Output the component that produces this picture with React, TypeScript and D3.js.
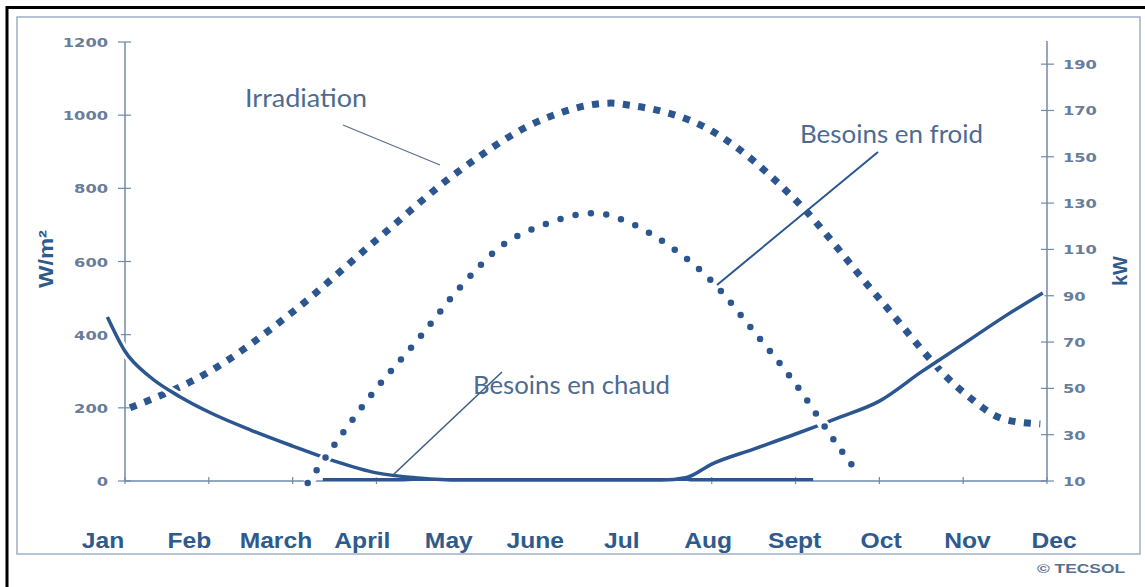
import * as d3 from "d3";

// x positions are in months (0 = Jan ... 11 = Dec), fractional where a curve starts/ends between months
const monthLabels = ["Jan", "Feb", "March", "April", "May", "June", "Jul", "Aug", "Sept", "Oct", "Nov", "Dec"];
const leftTicks = [0, 200, 400, 600, 800, 1000, 1200];
const rightTicks = [10, 30, 50, 70, 90, 110, 130, 150, 170, 190];

// Irradiation (W/m²), square dotted
const irrMonths = [0.06, 1, 2, 3, 4, 5, 5.8, 6, 7, 8, 9, 10, 10.5, 10.92];
const irrValues = [200, 298, 462, 659, 850, 990, 1033, 1028, 957, 768, 498, 243, 168, 156];

// Besoins en froid (kW), round dotted
const froidMonths = [2.18, 3, 3.5, 4, 4.5, 5, 5.6, 6, 6.5, 7, 7.5, 8, 8.5, 8.74];
const froidValues = [9.1, 50, 71.3, 93.7, 111.7, 120.7, 125.7, 121.8, 111.4, 96.3, 74.7, 51.9, 25.5, 13.5];

// Besoins en chaud (kW), solid
const chaudMonths = [-0.21, 0, 0.3, 0.66, 1, 1.5, 2, 2.5, 3, 3.5, 4, 6.4, 6.7, 7, 7.5, 8, 8.5, 9, 9.5, 10, 10.5, 10.95];
const chaudValues = [80.8, 66, 54.9, 46.3, 39.8, 32, 25.1, 18.6, 13.5, 11.3, 10.4, 10.4, 11.5, 17.3, 23.8, 30.3, 37.2, 44.5, 57.1, 69.1, 81.2, 91.2];

// flat base line under the summer months (kW)
const baseMonths = [2.36, 8.21];
const baseValues = [10.7, 10.7];

const W = 1145;
const H = 587;
const LINE = "#2b5690";
const AXIS = "#7189ab";
const TICK_TXT = "#687c9b";
const NOTE = "#4d6b92";

const x = d3.scaleLinear().domain([0, 11]).range([125, 1047]);
const xLabel = d3.scalePoint<string>().domain(monthLabels).range([103, 1054]);
const yL = d3.scaleLinear().domain([0, 1200]).range([481, 42]);
const yR = d3.scaleLinear().domain([10, 200]).range([481, 41]);

const pts = (ms: number[], vs: number[]) => ms.map((m, i) => [m, vs[i]] as [number, number]);

const lineL = d3.line<[number, number]>().x((d) => x(d[0])).y((d) => yL(d[1])).curve(d3.curveMonotoneX);
const lineR = d3.line<[number, number]>().x((d) => x(d[0])).y((d) => yR(d[1])).curve(d3.curveMonotoneX);

const App = () => {
  const irrPath = lineL(pts(irrMonths, irrValues)) || "";
  const froidPath = lineR(pts(froidMonths, froidValues)) || "";
  const chaudPath = lineR(pts(chaudMonths, chaudValues)) || "";
  const basePath = lineR(pts(baseMonths, baseValues)) || "";
  const bold = "'Liberation Sans', Arial, sans-serif";
  const wide = "'DejaVu Sans', sans-serif";

  return (
    <svg width={W} height={H} style={{ position: "absolute", left: 0, top: 0, background: "#fff" }}>
      {/* frames */}
      <rect x={17} y={17} width={1123} height={537} fill="#fff" stroke="#9fb0c6" strokeWidth={1.5} />
      <rect x={7} y={7.5} width={1170} height={620} fill="none" stroke="#000" strokeWidth={3} />

      {/* axes */}
      <line x1={x(0)} x2={x(0)} y1={yL(1200)} y2={yL(0)} stroke={AXIS} strokeWidth={1.5} />
      <line x1={x(11)} x2={x(11)} y1={yR(200)} y2={yR(10)} stroke={AXIS} strokeWidth={1.5} />
      <line x1={x(0)} x2={x(11)} y1={yL(0)} y2={yL(0)} stroke={AXIS} strokeWidth={1.5} />
      {leftTicks.map((t) => (
        <g key={"l" + t}>
          <line x1={x(0) - 7} x2={x(0) + 6} y1={yL(t)} y2={yL(t)} stroke={AXIS} strokeWidth={1.2} />
          <text transform={`translate(108,${yL(t) + 5}) scale(1.25,1)`} textAnchor="end"
            fontFamily={wide} fontWeight="bold" fontSize={13} fill={TICK_TXT}>{t}</text>
        </g>
      ))}
      {rightTicks.map((t) => (
        <g key={"r" + t}>
          <line x1={x(11) - 6} x2={x(11) + 7} y1={yR(t)} y2={yR(t)} stroke={AXIS} strokeWidth={1.2} />
          <text transform={`translate(1063,${yR(t) + 5}) scale(1.25,1)`} textAnchor="start"
            fontFamily={wide} fontWeight="bold" fontSize={13} fill={TICK_TXT}>{t}</text>
        </g>
      ))}
      {monthLabels.map((m, i) => (
        <g key={m}>
          <line x1={x(i)} x2={x(i)} y1={yL(0) - 4} y2={yL(0) + 3} stroke={AXIS} strokeWidth={1.2} />
          <text transform={`translate(${xLabel(m)},548) scale(1.12,1)`} textAnchor="middle"
            fontFamily={bold} fontWeight="bold" fontSize={22} fill="#2f5a8c">{m}</text>
        </g>
      ))}
      <text transform="translate(53,259) rotate(-90)" textAnchor="middle" fontFamily={bold}
        fontWeight="bold" fontSize={20} fill="#2f5a8c" textLength={58} lengthAdjust="spacingAndGlyphs">W/m²</text>
      <text transform="translate(1127,271) rotate(-90)" textAnchor="middle" fontFamily={bold}
        fontWeight="bold" fontSize={20} fill="#2f5a8c">kW</text>

      {/* irradiation */}
      <path d={irrPath} fill="none" stroke="#fff" strokeWidth={11} />
      <path d={irrPath} fill="none" stroke={LINE} strokeWidth={7} strokeDasharray="7 8.5" />

      {/* besoins en chaud */}
      <path d={chaudPath} fill="none" stroke="#fff" strokeWidth={9} />
      <path d={chaudPath} fill="none" stroke={LINE} strokeWidth={3.5} />
      <path d={basePath} fill="none" stroke={LINE} strokeWidth={3} />

      {/* besoins en froid */}
      <path d={froidPath} fill="none" stroke="#fff" strokeWidth={11} />
      <path d={froidPath} fill="none" stroke={LINE} strokeWidth={6.5} strokeLinecap="round" strokeDasharray="0 15.5" />

      {/* annotations */}
      <line x1={343} y1={125} x2={440} y2={165} stroke="#5a6f8c" strokeWidth={1.2} />
      <text x={245} y={107} fontFamily="Lato, 'Open Sans', sans-serif" fontSize={25} fill={NOTE}
        textLength={122} lengthAdjust="spacingAndGlyphs">Irradiation</text>
      <line x1={878} y1={152} x2={717} y2={285} stroke={LINE} strokeWidth={2} />
      <text x={800} y={143} fontFamily="Lato, 'Open Sans', sans-serif" fontSize={25} fill={NOTE}
        textLength={183} lengthAdjust="spacingAndGlyphs">Besoins en froid</text>
      <line x1={502} y1={372} x2={394} y2={474} stroke="#3d5f8c" strokeWidth={1.6} />
      <text x={473} y={394} fontFamily="Lato, 'Open Sans', sans-serif" fontSize={25} fill={NOTE}
        textLength={197} lengthAdjust="spacingAndGlyphs">Besoins en chaud</text>

      <text x={1037} y={573} fontFamily={bold} fontWeight="bold" fontSize={13} fill="#556f90"
        textLength={88} lengthAdjust="spacingAndGlyphs">© TECSOL</text>
    </svg>
  );
};

export default App;
